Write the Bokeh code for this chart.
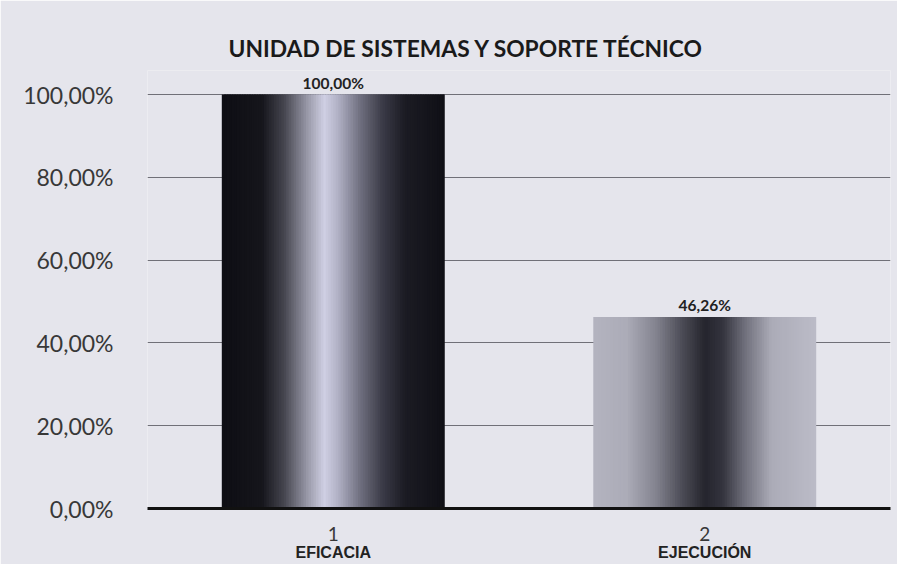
import numpy as np
from bokeh.plotting import figure
from bokeh.models import Range1d, FixedTicker, LabelSet, ColumnDataSource, LinearAxis
from bokeh.core.properties import value
from bokeh.embed import file_html
from bokeh.resources import INLINE

categories = ["EFICACIA", "EJECUCIÓN"]
index_labels = ["1", "2"]
values = [100.00, 46.26]
value_labels = ["100,00%", "46,26%"]
y_ticks = [0, 20, 40, 60, 80, 100]
y_tick_labels = ["0,00%", "20,00%", "40,00%", "60,00%", "80,00%", "100,00%"]
title_text = "UNIDAD DE SISTEMAS Y SOPORTE TÉCNICO"

BG = "#e5e5ec"
BAR_W = 0.6
N = 90

# gradient stops (relative position across the bar, rgb)
grad_stops = [
    ([0.0, 0.18, 0.28, 0.38, 0.46, 0.52, 0.62, 0.72, 0.82, 1.0],
     [(14, 14, 20), (22, 22, 28), (70, 70, 80), (150, 150, 165), (208, 208, 228),
      (178, 178, 198), (112, 112, 128), (60, 60, 72), (28, 28, 36), (16, 16, 22)]),
    ([0.0, 0.15, 0.28, 0.40, 0.50, 0.58, 0.68, 0.80, 1.0],
     [(180, 180, 192), (172, 172, 184), (132, 132, 144), (76, 76, 86), (38, 38, 46),
      (52, 52, 62), (112, 112, 124), (172, 172, 184), (188, 188, 200)]),
]

xs_cat = [i + 1 for i in range(len(categories))]

p = figure(width=897, height=564, output_backend="svg", toolbar_location=None,
           x_range=Range1d(0.5, 2.5), y_range=Range1d(0, 105.8),
           min_border_left=147, min_border_right=7, min_border_top=70, min_border_bottom=56)
p.background_fill_color = BG
p.border_fill_color = BG
p.outline_line_color = None

p.title.text = title_text
p.title.align = "left"
p.title.offset = 81
p.title.text_font = "Lato"
p.title.text_font_size = "22.8px"
p.title.text_font_style = "bold"
p.title.text_color = "#1a1a1a"
p.title.standoff = 18

# bars drawn as thin gradient strips
for xc, v, (pos, cols) in zip(xs_cat, values, grad_stops):
    t = (np.arange(N) + 0.5) / N
    r = np.interp(t, pos, [c[0] for c in cols])
    g = np.interp(t, pos, [c[1] for c in cols])
    b = np.interp(t, pos, [c[2] for c in cols])
    colors = ["#%02x%02x%02x" % (int(a), int(bb), int(c)) for a, bb, c in zip(r, g, b)]
    x0 = xc - BAR_W / 2
    w = BAR_W / N
    left = x0 + np.arange(N) * w
    right = np.minimum(left + w * 1.8, x0 + BAR_W)
    p.quad(left=left, right=right, bottom=0, top=[v] * N,
           fill_color=colors, line_color=None)

# value labels
src = ColumnDataSource(dict(x=xs_cat, y=values, t=value_labels))
p.add_layout(LabelSet(x="x", y="y", text="t", source=src, text_align="center",
                      text_baseline="bottom", y_offset=3, text_font_size=value("15.5px"),
                      text_font_style=value("bold"), text_color=value("#222222"),
                      text_font=value("Lato")))

# axes
p.yaxis.ticker = FixedTicker(ticks=y_ticks)
p.yaxis.major_label_overrides = {t: l for t, l in zip(y_ticks, y_tick_labels)}
p.yaxis.axis_line_color = None
p.yaxis.major_tick_line_color = None
p.yaxis.minor_tick_line_color = None
p.yaxis.major_label_text_font = "Lato"
p.yaxis.major_label_text_font_size = "23px"
p.yaxis.major_label_text_color = "#383838"
p.yaxis.major_label_standoff = 28

p.xaxis.ticker = FixedTicker(ticks=xs_cat)
p.xaxis.major_label_overrides = {x: l for x, l in zip(xs_cat, index_labels)}
p.xaxis.axis_line_color = "#111111"
p.xaxis.axis_line_width = 3
p.xaxis.major_tick_line_color = None
p.xaxis.minor_tick_line_color = None
p.xaxis.major_label_text_font = "Lato"
p.xaxis.major_label_text_font_size = "19px"
p.xaxis.major_label_text_color = "#383838"
p.xaxis.major_label_standoff = 12

ax2 = LinearAxis(ticker=FixedTicker(ticks=xs_cat),
                 major_label_overrides={x: c for x, c in zip(xs_cat, categories)})
ax2.axis_line_color = None
ax2.major_tick_line_color = None
ax2.minor_tick_line_color = None
ax2.major_tick_out = 0
ax2.major_label_text_font = "Liberation Sans"
ax2.major_label_text_font_size = "16px"
ax2.major_label_text_font_style = "bold"
ax2.major_label_text_color = "#222222"
ax2.major_label_standoff = 0
p.add_layout(ax2, "below")

p.xgrid.grid_line_color = None
p.ygrid.ticker = FixedTicker(ticks=y_ticks[1:])
p.ygrid.grid_line_color = "#707078"
p.ygrid.grid_line_width = 1

open("out.html", "w").write(file_html(p, INLINE))
